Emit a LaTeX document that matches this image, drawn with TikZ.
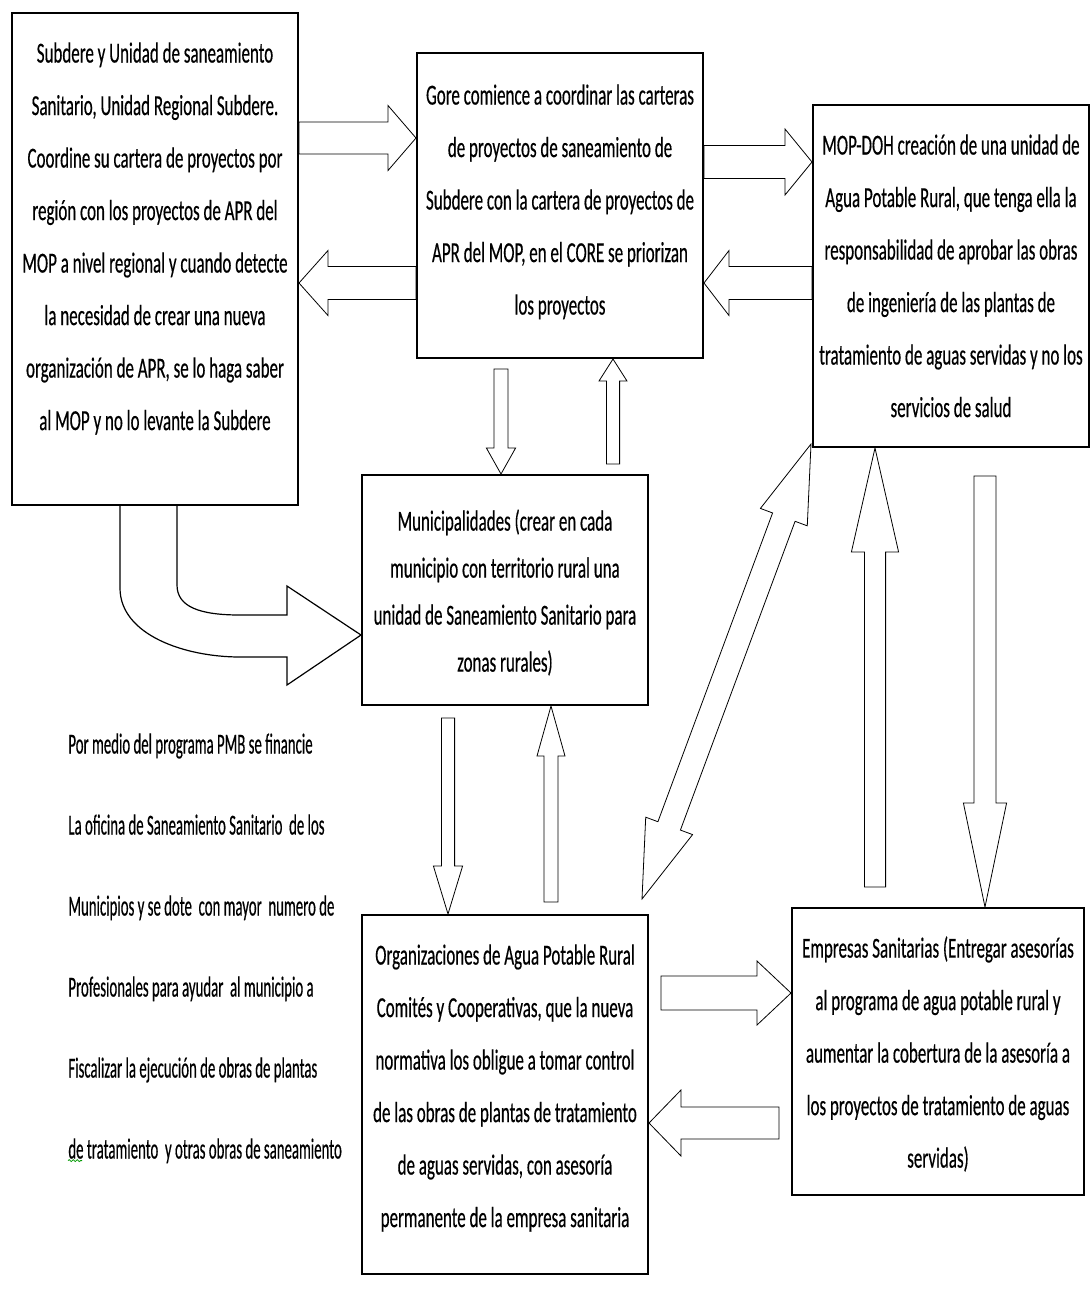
\documentclass[tikz,border=0pt]{standalone}
\usepackage{fontspec}
\setmainfont{Carlito}[FakeStretch=0.585, FakeBold=0.4]
\newfontfamily\notefam{Carlito}[FakeStretch=0.51, FakeBold=0.4]
\usetikzlibrary{calc,fit,decorations.pathmorphing}

\newcommand\boxfont{\fontsize{14.5pt}{26.25pt}\selectfont}
\newcommand\notefont{\notefam\fontsize{14.5pt}{40.5pt}\selectfont}

\tikzset{
  box/.style={draw, line width=1pt, inner sep=0pt, fit={#1}},
  txt/.style={align=center, inner sep=0pt, anchor=north, font=\boxfont},
  blockarrow/.style n args={3}{draw, line width=0.6pt, line join=miter, to path={
    ($(\tikztotarget)!#3!(\tikztostart)$) coordinate (hb)
    ($(\tikztostart)!#1!90:(\tikztotarget)$)
    -- ($(hb)!#1!90:(\tikztotarget)$) -- ($(hb)!#2!90:(\tikztotarget)$)
    -- (\tikztotarget)
    -- ($(hb)!#2!-90:(\tikztotarget)$) -- ($(hb)!#1!-90:(\tikztotarget)$)
    -- ($(\tikztostart)!#1!-90:(\tikztotarget)$) -- cycle}},
  twoway/.style n args={3}{draw, line width=0.6pt, line join=miter, to path={
    ($(\tikztotarget)!#3!(\tikztostart)$) coordinate (hb)
    ($(\tikztostart)!#3!(\tikztotarget)$) coordinate (ht)
    (\tikztostart)
    -- ($(ht)!#2!90:(\tikztotarget)$) -- ($(ht)!#1!90:(\tikztotarget)$)
    -- ($(hb)!#1!90:(\tikztotarget)$) -- ($(hb)!#2!90:(\tikztotarget)$)
    -- (\tikztotarget)
    -- ($(hb)!#2!-90:(\tikztotarget)$) -- ($(hb)!#1!-90:(\tikztotarget)$)
    -- ($(ht)!#1!-90:(\tikztotarget)$) -- ($(ht)!#2!-90:(\tikztotarget)$)
    -- cycle}}
}

\begin{document}
\begin{tikzpicture}[x=0.5pt, y=-0.5pt]
	\useasboundingbox (0,0) rectangle (1091,1298);

	% boxes
	\node[box={(12,13) (298,505)}] (subdere) {};
	\node[box={(417,53) (703,358)}] (gore) {};
	\node[box={(813,105) (1089,447)}] (mop) {};
	\node[box={(362,475) (648,705)}] (muni) {};
	\node[box={(362,915) (648,1274)}] (org) {};
	\node[box={(792,908) (1084,1195)}] (emp) {};

	\node[txt] (subderetxt) at (subdere.north |- 0,42) {Subdere y Unidad de saneamiento\\ Sanitario, Unidad Regional Subdere.\\ Coordine su cartera de proyectos por\\ región con los proyectos de APR del\\ MOP a nivel regional y cuando detecte\\ la necesidad de crear una nueva\\ organización de APR, se lo haga saber\\ al MOP y no lo levante la Subdere};
	\node[txt] (goretxt) at (gore.north |- 0,84) {Gore comience a coordinar las carteras\\ de proyectos de saneamiento de\\ Subdere con la cartera de proyectos de\\ APR del MOP, en el CORE se priorizan\\ los proyectos};
	\node[txt] (moptxt) at (mop.north |- 0,134) {MOP-DOH creación de una unidad de\\ Agua Potable Rural, que tenga ella la\\ responsabilidad de aprobar las obras\\ de ingeniería de las plantas de\\ tratamiento de aguas servidas y no los\\ servicios de salud};
	\node[txt, font=\fontsize{14.5pt}{23.5pt}\selectfont] (munitxt) at (muni.north |- 0,509) {Municipalidades (crear en cada\\ municipio con territorio rural una\\ unidad de Saneamiento Sanitario para\\ zonas rurales)};
	\node[txt] (orgtxt) at (org.north |- 0,944) {Organizaciones de Agua Potable Rural\\ Comités y Cooperativas, que la nueva\\ normativa los obligue a tomar control\\ de las obras de plantas de tratamiento\\ de aguas servidas, con asesoría\\ permanente de la empresa sanitaria};
	\node[txt] (emptxt) at (emp.north |- 0,936) {Empresas Sanitarias (Entregar asesorías\\ al programa de agua potable rural y\\ aumentar la cobertura de la asesoría a\\ los proyectos de tratamiento de aguas\\ servidas)};

	\node[align=left, inner sep=0pt, anchor=north west, font=\notefont] (pmb) at (68,733) {Por medio del programa PMB se financie\\ La oficina de Saneamiento Sanitario \ de los\\ Municipios y se dote \ con mayor \ numero de\\ Profesionales para ayudar \ al municipio a\\ Fiscalizar la ejecución de obras de plantas\\ de tratamiento \ y otras obras de saneamiento};
	\draw[green!60!black, line width=0.4pt, decorate, decoration={snake, amplitude=0.5pt, segment length=2pt}]
		([yshift=1.5pt]pmb.south west) -- ++(14,0);

	% horizontal arrows
	\draw (subdere.east |- 0,138) to[blockarrow={8pt}{16.25pt}{14pt}] (gore.west |- 0,138);
	\draw (gore.west |- 0,283) to[blockarrow={8.25pt}{16.25pt}{14.5pt}] (subdere.east |- 0,283);
	\draw (gore.east |- 0,162) to[blockarrow={8.25pt}{16.5pt}{13.5pt}] (mop.west |- 0,162);
	\draw (mop.west |- 0,283) to[blockarrow={8.25pt}{16.25pt}{12.5pt}] (gore.east |- 0,283);
	\draw ([xshift=6pt]org.east |- 0,993) to[blockarrow={8.5pt}{16pt}{17pt}] (emp.west |- 0,993);
	\draw ([xshift=-6pt]emp.west |- 0,1123) to[blockarrow={8pt}{16.5pt}{16pt}] (org.east |- 0,1123);

	% vertical arrows
	\draw ([yshift=-5pt]gore.south -| 501,0) to[blockarrow={3.5pt}{7.3pt}{13pt}] (muni.north -| 501,0);
	\draw ([yshift=5pt]muni.north -| 613,0) to[blockarrow={3.3pt}{7pt}{11pt}] (gore.south -| 613,0);
	\draw ([yshift=-6pt]muni.south -| 448,0) to[blockarrow={3.3pt}{7.3pt}{24pt}] (org.north -| 448,0);
	\draw ([yshift=6pt]org.north -| 551,0) to[blockarrow={3.5pt}{7pt}{25pt}] (muni.south -| 551,0);
	\draw ([yshift=10pt]emp.north -| 875,0) to[blockarrow={5.3pt}{11.8pt}{52pt}] (mop.south -| 875,0);
	\draw ([yshift=-14pt]mop.south -| 985,0) to[blockarrow={5.5pt}{10.8pt}{52pt}] (emp.north -| 985,0);

	% diagonal double arrow
	\draw ([shift={(-7,-15)}]org.north east) to[twoway={6pt}{12.5pt}{39pt}] ([shift={(-1,-4)}]mop.south west);

	% curved arrow from Subdere to Municipalidades
	\coordinate (ctip) at ([yshift=-22.5pt]muni.west);
	\draw[line width=0.6pt, line join=miter]
		(subdere.south -| 120,0) -- (120,588)
		.. controls (120,635) and (185,657) .. (240,657) -- (287,657) -- (287,685)
		-- (ctip) -- (287,586) -- (287,615) -- (240,615)
		.. controls (200,615) and (177,607) .. (177,585) -- (subdere.south -| 177,0);
\end{tikzpicture}
\end{document}
